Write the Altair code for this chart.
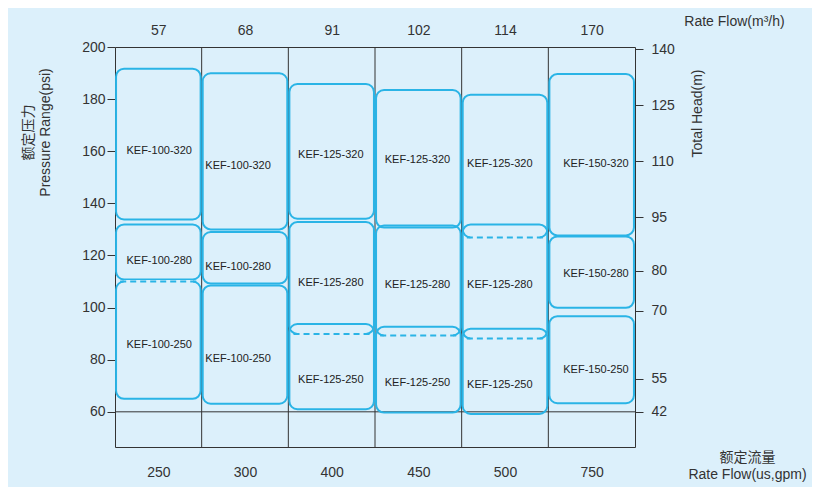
import altair as alt
import pandas as pd

# ---------------- data ----------------
cols = [0, 1, 2, 3, 4, 5]
flow_m3h = ["57", "68", "91", "102", "114", "170"]
flow_gpm = ["250", "300", "400", "450", "500", "750"]
series = ["100", "100", "125", "125", "125", "150"]
impellers = ["320", "280", "250"]

top320 = [191.7, 189.9, 185.8, 183.5, 181.7, 189.6]
bot320 = [133.8, 130.0, 134.1, 130.7, 126.9, 127.7]
top280 = [131.9, 129.0, 132.8, 131.5, 131.9, 127.3]
bot280 = [110.8, 109.2, 89.9, 89.3, 88.1, 99.9]
top250 = [110.0, 108.5, 93.7, 92.6, 91.9, 96.7]
bot250 = [65.0, 63.1, 61.0, 59.7, 59.2, 63.3]

lab320 = [160.0, 154.2, 158.5, 156.5, 155.0, 155.0]
lab280 = [117.7, 115.4, 109.6, 108.5, 108.8, 113.0]
lab250 = [85.8, 80.4, 72.3, 71.2, 70.4, 76.2]
label_x = [0.51, 1.42, 2.49, 3.49, 4.44, 5.55]

dashed_col = [0, 2, 3, 4, 4]
dashed_psi = [110.0, 89.9, 89.3, 126.9, 88.1]

psi_ticks = [60, 80, 100, 120, 140, 160, 180, 200]
head_psi = [199.2, 177.7, 156.2, 134.6, 114.2, 98.8, 72.7, 60.0]
head_m = ["140", "125", "110", "95", "80", "70", "55", "42"]

# ---------------- tables ----------------
rows = []
for i in cols:
    for imp, t, b, ly in zip(impellers,
                             [top320[i], top280[i], top250[i]],
                             [bot320[i], bot280[i], bot250[i]],
                             [lab320[i], lab280[i], lab250[i]]):
        rows.append(dict(x0=i + 0.012, x1=i + 0.988, top=t, bot=b,
                         label=f"KEF-{series[i]}-{imp}", lx=label_x[i], ly=ly))
boxes = pd.DataFrame(rows)

dash_df = pd.DataFrame(dict(
    x0=[c + 0.06 for c in dashed_col], x1=[c + 0.94 for c in dashed_col],
    e0=[c + 0.1 for c in dashed_col], e1=[c + 0.9 for c in dashed_col],
    y=dashed_psi))
grid_df = pd.DataFrame(dict(x=[1, 2, 3, 4, 5]))
line60 = pd.DataFrame(dict(y=[60]))

BG = "#dcf0fb"
CYAN = "#2ab4e6"
DARK = "#333333"
FONT = "'Liberation Sans', Arial, 'Noto Sans CJK SC', sans-serif"

xs = alt.Scale(domain=[0, 6], nice=False, zero=False)
ys = alt.Scale(domain=[46.5, 200], nice=False, zero=False)

centers = [c + 0.5 for c in cols]


def chain(values, labels):
    expr = "''"
    for v, l in reversed(list(zip(values, labels))):
        expr = f"abs(datum.value - {v}) < 0.3 ? '{l}' : ({expr})"
    return expr


common_axis = dict(domain=False, grid=False, labelFontSize=14, labelColor=DARK,
                   labelOverlap=False, labelFlush=False, labelBound=False,
                   titleFontSize=14, titleFontWeight="normal", titleColor=DARK,
                   titleLineHeight=17, titleBaseline="alphabetic", titleAlign="center")

left_axis = alt.Axis(orient="left", values=psi_ticks, tickSize=8, tickColor=DARK,
                     labelPadding=2, title=["额定压力", "Pressure Range(psi)"],
                     titleX=-83, titleY=85, titleAngle=270, **common_axis)
right_axis = alt.Axis(orient="right", values=head_psi, labelExpr=chain(head_psi, head_m),
                      tickSize=8, tickColor=DARK, labelPadding=8,
                      title="Total Head(m)", titleX=66, titleY=66, titleAngle=270,
                      **common_axis)
bottom_axis = alt.Axis(orient="bottom", values=centers, labelExpr=chain(centers, flow_gpm),
                       ticks=False, labelPadding=18,
                       title=["额定流量", "Rate Flow(us,gpm)"], titleX=632, titleY=14,
                       **common_axis)
top_axis = alt.Axis(orient="top", values=centers, labelExpr=chain(centers, flow_m3h),
                    ticks=False, labelPadding=10,
                    title="Rate Flow(m³/h)", titleX=619, titleY=-22, **common_axis)

grid = alt.Chart(grid_df).mark_rule(color=DARK, strokeWidth=1).encode(
    x=alt.X("x:Q", scale=xs, axis=None))

rule60 = alt.Chart(line60).mark_rule(color=DARK, strokeWidth=1).encode(
    y=alt.Y("y:Q", scale=ys, axis=None))

rects = alt.Chart(boxes).mark_rect(cornerRadius=8, fillOpacity=0, stroke=CYAN,
                                   strokeWidth=2).encode(
    x=alt.X("x0:Q", scale=xs, axis=bottom_axis),
    x2="x1:Q",
    y=alt.Y("top:Q", scale=ys, axis=left_axis),
    y2="bot:Q")

axis2 = alt.Chart(boxes).mark_point(opacity=0).encode(
    x=alt.X("lx:Q", scale=xs, axis=top_axis),
    y=alt.Y("ly:Q", scale=ys, axis=right_axis))

erase = alt.Chart(dash_df).mark_rule(color=BG, strokeWidth=3).encode(
    x=alt.X("e0:Q", scale=xs, axis=None), x2="e1:Q",
    y=alt.Y("y:Q", scale=ys, axis=None))

dashed = alt.Chart(dash_df).mark_rule(color=CYAN, strokeWidth=2, strokeDash=[6, 4]).encode(
    x=alt.X("x0:Q", scale=xs, axis=None), x2="x1:Q",
    y=alt.Y("y:Q", scale=ys, axis=None))

texts = alt.Chart(boxes).mark_text(fontSize=11, color="#222222").encode(
    x=alt.X("lx:Q", scale=xs, axis=None),
    y=alt.Y("ly:Q", scale=ys, axis=None),
    text="label:N")

chart = alt.layer(grid, rule60, rects, axis2, erase, dashed, texts).resolve_axis(
    x="independent", y="independent"
).properties(
    width=520, height=400,
    autosize=alt.AutoSizeParams(type="none"),
    padding={"left": 107, "top": 39, "right": 177, "bottom": 40},
    background=BG,
).configure(font=FONT).configure_view(stroke=DARK, strokeWidth=1)

chart.save("out.html", embed_options={"renderer": "svg", "actions": False})
